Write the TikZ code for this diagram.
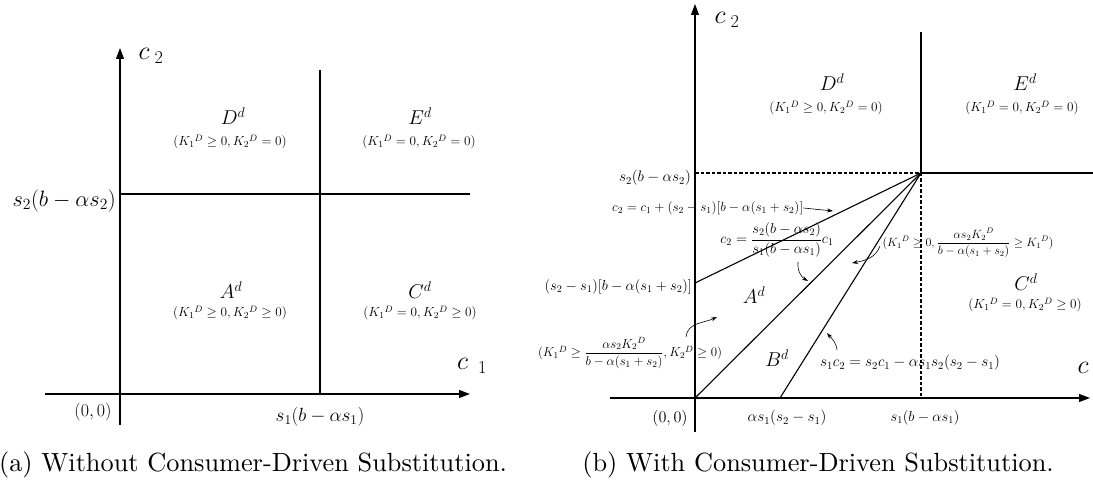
\RequirePackage{fix-cm}
\documentclass[tikz,border=0pt]{standalone}
\usepackage{amsmath}
\usepackage[no-math]{fontspec}
\newfontfamily\capfont{lmroman10-regular.otf}
\usetikzlibrary{arrows.meta}
\newcommand{\fsz}[1]{\fontsize{#1}{#1}\selectfont}
\begin{document}
\begin{tikzpicture}[x=1pt,y=-1pt,
  ax/.style={line width=1.1pt,-{Triangle[length=11pt,width=8pt]}},
  ln/.style={line width=1.1pt},
  dsh/.style={line width=1.1pt,dash pattern=on 3.5pt off 2pt},
  lab/.style={inner sep=0pt, font=\fsz{19}},
  big/.style={inner sep=0pt, font=\fsz{26}},
  reg/.style={inner sep=0pt, font=\fsz{20}},
  rlab/.style={inner sep=0pt, font=\fsz{15}},
  cond/.style={inner sep=0pt, font=\fsz{13.2}},
  frc/.style={inner sep=0pt, font=\fsz{12.5}},
  pt/.style={-{Stealth[length=6pt,width=4pt]}, line width=0.6pt},
  captxt/.style={inner sep=0pt, font=\capfont\fsz{26.3}}
]
\useasboundingbox (0,0) rectangle (1093,486);
% ---------- left panel ----------
\coordinate (LYb) at (120,425);
\coordinate (LYt) at (120,48);
\coordinate (LXl) at (45,394);
\coordinate (LXr) at (470,394);
\coordinate (LVt) at (320,70);
\coordinate (LVb) at (320,394);
\coordinate (LHl) at (120,194);
\coordinate (LHr) at (470,194);
\draw[ax] (LYb) -- (LYt);
\draw[ax] (LXl) -- (LXr);
\draw[ln] (LVt) -- (LVb);
\draw[ln] (LHl) -- (LHr);
\node[big] (lc2) at (151,56) {$c_{\;2}$};
\node[big] (lc1) at (472,366) {$c_{\;\;1}$};
\node[lab,anchor=east,font=\fsz{22.3}] (ls2) at (116,201) {$s_2(b-\alpha s_2)$};
\node[lab,font=\fsz{18}] (lo) at (93,412) {$(0,0)$};
\node[lab,font=\fsz{19.1}] (ls1) at (320,417) {$s_1(b-\alpha s_1)$};
\node[reg] (lD) at (233,116) {$D^d$};
\node[cond] (lDc) at (230,142) {$(K_1{}^D\geq 0, K_2{}^D = 0)$};
\node[reg] (lE) at (420,116) {$E^d$};
\node[cond] (lEc) at (419,142) {$(K_1{}^D = 0, K_2{}^D = 0)$};
\node[reg] (lA) at (231,290) {$A^d$};
\node[cond] (lAc) at (230,313) {$(K_1{}^D\geq 0, K_2{}^D \geq 0)$};
\node[reg] (lC) at (420,290) {$C^d$};
\node[cond] (lCc) at (420,313) {$(K_1{}^D = 0, K_2{}^D \geq 0)$};
% ---------- right panel ----------
\coordinate (RO) at (695,398);
\coordinate (RYb) at (695,432);
\coordinate (RYt) at (695,4);
\coordinate (RXl) at (610,398);
\coordinate (RXr) at (1090,398);
\coordinate (P) at (921,173);
\coordinate (RVt) at (921,32);
\coordinate (RVb) at (921,398);
\coordinate (RHr) at (1093,173);
\coordinate (RHl) at (695,173);
\coordinate (Q) at (695,283);
\coordinate (B) at (780,398);
\draw[ax] (RYb) -- (RYt);
\draw[ax] (RXl) -- (RXr);
\draw[ln] (RVt) -- (P);
\draw[ln] (P) -- (RHr);
\draw[dsh] (RHl) -- (P);
\draw[dsh] (P) -- (RVb);
\draw[ln] (Q) -- (P);
\draw[ln] (RO) -- (P);
\draw[ln] (B) -- (P);
\node[big] (rc2) at (727,20) {$c_{\;2}$};
\node[big] (rc1) at (1083,368) {$c$};
\node[reg] (rD) at (832,82) {$D^d$};
\node[cond] (rDc) at (826,108) {$(K_1{}^D\geq 0, K_2{}^D = 0)$};
\node[reg] (rE) at (1025,82) {$E^d$};
\node[cond] (rEc) at (1022,108) {$(K_1{}^D = 0, K_2{}^D = 0)$};
\node[reg] (rA) at (754,295) {$A^d$};
\node[reg] (rB) at (777,358) {$B^d$};
\node[reg] (rC) at (1026,282) {$C^d$};
\node[cond] (rCc) at (1025,305) {$(K_1{}^D = 0, K_2{}^D \geq 0)$};
\node[rlab,anchor=east,font=\fsz{15.2}] (rs2) at (691,178) {$s_2(b-\alpha s_2)$};
\node[rlab,anchor=east,font=\fsz{14.5}] (rq) at (692,287) {$(s_2-s_1)[b-\alpha(s_1+s_2)]$};
\node[rlab,anchor=west,font=\fsz{13.3}] (eq1) at (612,208) {$c_2=c_1+(s_2-s_1)[b-\alpha(s_1+s_2)]$};
\node[frc,font=\fsz{14.5}] (eq2) at (777,240) {$c_2=\dfrac{s_2(b-\alpha s_2)}{s_1(b-\alpha s_1)}c_1$};
\node[frc,font=\fsz{12}] (condB) at (968,243) {$(K_1{}^D\geq 0,\dfrac{\alpha s_2K_2{}^D}{b-\alpha(s_1+s_2)}\geq K_1{}^D)$};
\node[frc,font=\fsz{12.9}] (condA) at (630,353) {$(K_1{}^D\geq \dfrac{\alpha s_2K_2{}^D}{b-\alpha(s_1+s_2)},K_2{}^D\geq 0)$};
\node[rlab,font=\fsz{15.2}] (eq3) at (910,363) {$s_1c_2=s_2c_1-\alpha s_1s_2(s_2-s_1)$};
\node[rlab,font=\fsz{16.2}] (ro) at (670,418) {$(0,0)$};
\node[rlab,font=\fsz{15.3}] (rb) at (787,418) {$\alpha s_1(s_2-s_1)$};
\node[rlab,font=\fsz{14.6}] (rs1) at (925,418) {$s_1(b-\alpha s_1)$};
% pointer arrows
\coordinate (t1) at (833,211);
\coordinate (s2a) at (798,262);
\coordinate (t2) at (808,281);
\coordinate (s3) at (880,246);
\coordinate (t3) at (852,263);
\coordinate (s4) at (837,350);
\coordinate (t4) at (827,333);
\coordinate (s5) at (686,337);
\coordinate (t5) at (717,317);
\draw[pt] (eq1.east) -- (t1);
\draw[pt] (s2a) to[out=-95,in=150] (t2);
\draw[pt] (s3) to[out=-110,in=10] (t3);
\draw[pt] (s4) to[out=95,in=-50] (t4);
\draw[pt] (s5) to[out=85,in=205] (t5);
% captions
\node[captxt] (capa) at (253,465) {(a) Without Consumer-Driven Substitution.};
\node[captxt] (capb) at (818,465) {(b) With Consumer-Driven Substitution.};
\end{tikzpicture}
\end{document}
